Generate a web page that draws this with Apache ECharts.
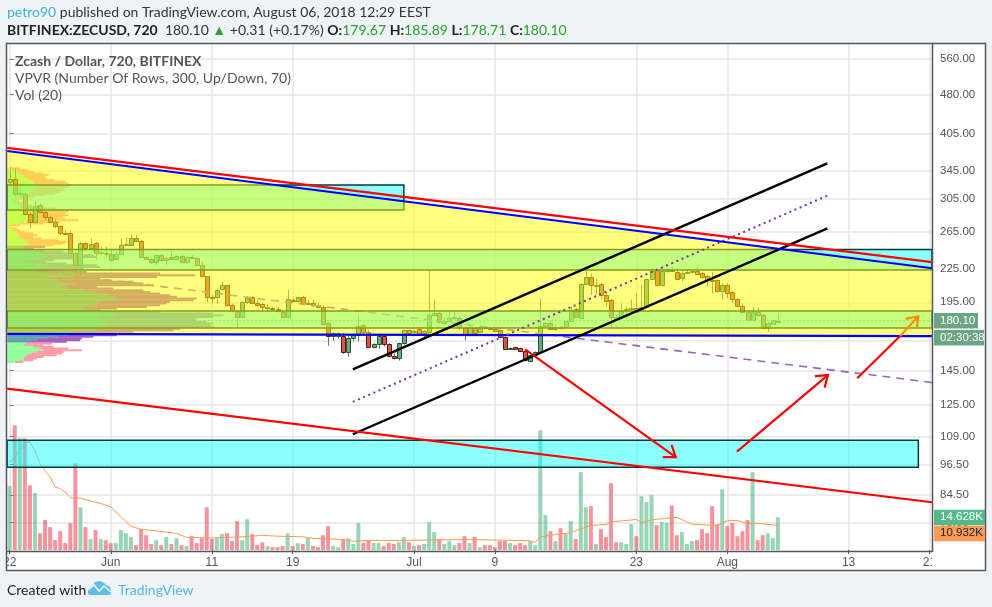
<!DOCTYPE html>
<html><head><meta charset="utf-8">
<style>html,body{margin:0;padding:0;background:#f0f3f6}#c{width:992px;height:607px}</style>
<script src="https://cdn.jsdelivr.net/npm/echarts@6/dist/echarts.min.js"></script>
</head><body><div id="c"></div>
<script>
// ---- data ----
const tickIndex=[0,20,40,56,80,96,124,142,166,182];
const tickText=['22','Jun','11','19','Jul','9','23','Aug','13','21'];
const priceTicks=[560,480,405,345,305,265,225,195,165,145,125,109,96.5,84.5,75];
const startDate=Date.UTC(2018,4,22);
const categories=[];for(let k=0;k<183;k++)categories.push(new Date(startDate+k*43200000).toISOString().slice(0,16));
// open, close, low, high
const candles=[
[328,332.4,322,351],[332.4,312.3,308.3,348.6],[312,313.7,308.3,326.6],[312.3,285.6,284.7,315],[285.6,275.8,268.7,297.3],
[275.8,296,274.6,301.7],[296.9,287.9,286.8,299.5],[287.9,281.9,278.6,290.9],[281.9,276.6,274.6,284.7],[275.8,271.1,268.7,280.6],
[271.1,263,261,272.6],[263.8,262.3,261,266.8],[263,241.1,240.4,266],[241.1,228.8,219.4,242.8],[228.8,252.5,219.4,253.2],
[252.5,246.4,244.6,253.6],[247.1,251.4,246.4,257.3],[251.8,241.1,234.2,253.6],[241.1,242.1,239.3,248.2],[241.8,240.4,237.6,248.2],
[240.7,233.9,233.5,244.6],[234.9,240,234.2,242.8],[240,250.3,239.3,257.3],[250.3,251.1,249.6,258.4],[250.3,257.3,249.2,261.4],
[258,254,252.9,261],[254,236.9,235.9,255.4],[236.9,235.6,234.2,239],[235.6,232.5,230.2,237.6],[231.8,239,229.2,240.7],
[239,233.9,232.5,240.4],[233.9,235.9,229.2,237.6],[236.9,234.9,234.2,243.2],[234.9,238,234.2,239],[238,231.8,230.9,240.4],
[231.8,236.9,230.9,237.6],[236.9,236.3,235.6,239.3],[236.3,229.6,229.2,236.9],[229.6,218.1,217.2,232.5],[218.1,199.2,194.9,218.5],
[199.5,199.2,194.1,201.2],[199.2,205.3,193.5,207.1],[206.2,209.8,205.6,212.9],[209.8,193,192.7,210.4],[193,188.2,187.2,194.1],
[187.9,182.6,174.1,188.5],[182.6,194.9,181.9,195.5],[194.9,198.3,193.5,200.6],[199.2,194.7,193.5,200.6],[194.7,193,191.3,196.9],
[193.2,190.7,188,194.7],[189.9,190.7,186.9,193.5],[190.5,189.6,188,191.3],[189.6,187.5,186.4,191.3],[186.9,182.6,182.2,188],
[182.6,197.5,182.4,205.6],[197.2,196.3,195.5,198.3],[196.3,199.2,194.7,199.8],[199.2,193.2,192.4,200.3],[193.2,194.7,192.7,196.9],
[194.7,192.7,191.3,197.5],[192.7,190.7,189.9,194.7],[190.7,177.7,176.7,192.7],[178.5,168.5,161.5,179.2],[168.5,170.4,165.1,171.7],
[168.5,170.4,166.8,171.7],[168.5,157.4,155.8,171],[157.4,166.8,154,168.5],[166.8,169.2,164.4,170.4],[169.2,176.2,164.4,183.2],
[176.4,171.7,168.5,178],[171.7,160.9,160.4,172.9],[160.9,162.5,159.7,163.2],[162.5,168.5,159.2,170.4],[168.5,162.5,160.9,169.2],
[162.5,154.4,153.6,163.2],[154.4,152.9,152.2,156.3],[152.9,163.2,151.4,163.7],[163.2,172.6,162.2,173.4],[172.6,171,170.4,173.4],
[171.2,172,170.4,172.9],[173.4,170.2,169.9,174.1],[171,172,167.5,172.9],[171.7,184.2,171,223.6],[184.8,185.8,184.2,197.5],
[185.8,179.2,178,186.9],[178.5,180,176.7,181.9],[180,181.9,179.2,187.2],[181.9,182.9,180.5,187.2],[181.9,174.9,172.9,183.2],
[174.1,169.7,165.1,174.9],[169.7,174.9,168.5,176.7],[174.4,170.4,169.9,175.4],[171.7,174.9,171,176.7],[174.9,174.1,173.6,175.9],
[174.4,173.4,172.9,175.4],[173.6,172.4,171.7,174.6],[172.9,167.5,166.8,173.4],[167.5,159,158.5,168],[159,159.7,158.5,160.4],
[160.4,159.5,159,160.9],[159.7,158,157.6,160.2],[158,151.8,150.7,159],[151.1,154.9,150.5,155.3],[154.9,157.2,154.4,157.6],
[157.2,176.2,156.7,198.3],[176.2,178.5,174.9,179.2],[178,173.4,172.9,180],[173.4,175.4,172.4,176.7],[175.4,174.4,173.4,175.9],
[174.9,179.7,174.1,180.5],[180,188.5,179.2,191.3],[189,182.6,181.9,189.9],[182.4,210.7,181.9,211.6],[210.7,217.8,210.1,227.5],
[217.2,209.8,201.2,221],[209.8,210.4,201.2,216.3],[210.7,201.2,197.5,212.3],[200.9,196.3,191.3,204.1],[197.2,183.2,174.6,198.3],
[183.2,181.4,180.5,184.5],[183.2,188,181.1,194.1],[188.8,189.6,181.9,191.3],[189.6,190.2,185.8,197.5],[190.5,187.2,186.9,202.7],
[188,190.7,187.5,210.1],[190.7,215.4,189.9,216.3],[215.4,223.6,214.7,225.9],[224.2,210.4,209.8,225.9],[210.4,223.6,210.1,227.5],
[223.6,224.5,221.6,225.9],[224.2,223.2,222.3,227.5],[222.3,215.9,215.4,225.9],[216.3,221.6,213.2,224.2],[222,222.6,220.4,223.6],
[222.3,222.9,221,224.2],[223.6,220,219.4,227.5],[221,217.8,216.3,222.6],[218.1,214.7,208.6,219.4],[214.7,213.8,202.7,222.6],
[214.4,205,202.7,215.4],[205,210.1,196.9,211.6],[210.1,203.2,198.3,211.6],[204.1,198,194.1,205],[197.5,192.1,190.7,198.3],
[191.8,186.9,185.8,194.1],[186.9,180.8,180,188],[180.8,187.2,179.7,191.3],[187.2,184.2,183.2,190.7],[184.2,174.6,174.1,185.3],
[174.6,178,171.7,179.2],[177.7,180.3,176.7,181.1],[179.67,180.1,178.71,185.89]];
const volumes=[28.4,55.4,49.6,49.6,28.8,25.3,7.5,13.3,10.2,4.4,8.4,3.1,12,38.5,19,10.2,4.9,8.9,4.9,4.4,3.1,3.1,8.9,7.5,5.8,2.2,9.3,6.6,2.7,4.4,2.2,5.8,2.7,5.3,2.2,1.8,6.2,3.1,5.3,19,4.9,5.3,7.1,7.5,4,12.8,4.4,13.7,7.1,2.2,3.5,1.8,1.3,1.3,1.8,7.5,1.8,3.1,2.7,5.3,1.8,1.3,6.6,10.6,1.8,1.3,4.9,5.3,2.7,12,3.1,4.4,3.1,3.1,1.8,3.1,2.7,3.5,
5.8,3.5,1.8,2.2,2.7,12.4,8,4.9,2.7,4,2.2,3.1,6.2,3.1,5.8,1.3,2.2,2.2,1.3,4,4,3.1,2.2,3.1,2.2,4,2.2,53.2,15.5,8.4,4,9.7,7.5,12.8,4.9,34.6,19,19.5,2.7,9.3,5.8,29.7,3.5,3.5,2.7,11.5,6.2,23.9,21.3,24.4,11.1,12.4,12,19.9,6.6,8,2.7,4,4.4,9.3,7.5,19.5,11.5,27,10.6,12,6.2,8.4,13.3,34.6,4.4,6.6,7.5,5.3,14.628];
// volume moving average, sampled at the candles where it was read
const volMa=[[0,39.1],[1,41],[2,44.6],[3,47.5],[4,48],[5,44.3],[6,38.4],[7,35.1],[8,32.5],[9,28],[10,27.3],[11,25.8],[12,23.3],[14,23],[16,21.8],[18,20.7],[20,19.2],[22,14.8],[24,10.6],[26,9.2],[30,8.3],[33,7.4],[35,5.6],[40,5.4],[46,5.9],[50,6.5],[54,6.1],[58,5.9],[60,5.2],[66,4.7],[68,3.9],[72,4.3],[78,4.3],[90,4.7],[100,4.3],[103,4.1],[104,3.4],[105,5.9],[108,6.9],[111,7.7],[113,9.4],[115,10.9],[118,11.4],[119,12.5],[124,13.6],[125,12.3],[127,13.4],[129,13.9],[132,14.5],[135,11.5],[140,10.9],[142,13],[144,13.2],[146,11.8],[149,11.7],[152,10.932]];
// visible-range volume profile: row price, up volume, down volume (arbitrary units)
const vpPrice=[348.6,346,343.5,341.1,338.6,336.2,333.8,331.4,329,326.6,324.3,322,319.6,317.3,315,312.8,310.5,308.3,306.1,303.8,301.7,299.5,297.3,295.2,293.1,290.9,288.9,286.8,284.7,282.7,280.6,278.6,276.6,274.6,272.6,270.7,268.7,266.8,264.9,263,261,259.2,257.3,255.4,253.6,251.8,249.9,248.2,246.4,244.6,242.8,241.1,239.3,237.6,235.9,234.2,232.5,230.9,229.2,227.5,225.9,224.2,222.6,221,219.4,217.8,216.3,214.7,213.2,211.6,210.1,208.6,207.1,205.6,204.1,202.7,201.2,199.8,198.3,196.9,195.5,194.1,192.7,191.3,189.9,188.5,187.2,185.8,184.5,183.2,181.9,180.5,179.2,178,176.7,175.4,174.1,172.9,171.7,170.4,169.2,168,166.8,165.6,164.4,163.2,162,160.9,159.7,158.5,157.4,156.3,155.1,154,152.9,151.8,150.7];
const vpUp=[8,18,28,38,48,48,58,68,78,78,88,88,78,78,68,63,48,38,23,13,18,23,28,38,58,68,73,68,78,68,63,78,58,38,8,3,8,13,23,28,33,33,38,48,58,63,58,48,38,48,78,98,108,118,98,68,58,88,118,128,108,78,98,208,258,198,118,148,158,198,178,158,178,228,258,278,298,318,328,338,278,268,258,268,228,208,278,318,328,318,278,278,258,308,298,278,278,258,198,178,178,148,118,88,68,58,48,78,98,108,88,73,58,53,48,48,23];
const vpDown=[30,45,50,70,75,65,60,75,95,105,105,95,90,95,90,80,60,40,40,15,20,30,45,70,90,100,110,105,105,100,110,135,100,70,30,5,20,25,30,50,55,45,65,105,120,105,80,65,40,65,90,100,150,150,100,70,60,90,150,150,120,70,140,250,305,250,160,160,220,210,260,110,140,180,170,180,190,190,240,220,210,210,200,150,100,70,180,300,320,300,285,290,340,310,310,340,240,240,180,150,150,110,105,130,110,75,60,60,85,115,80,90,90,55,40,30,25];
const vaLow=163.5, vaHigh=249;
// drawings: candle-index / price pairs
const bands=[[-0.5,324.3,78,290.9],[-0.5,245.1,182.5,224.2],[-0.5,187.8,182.5,174.4],[-0.5,107.2,179.8,95.3]];
const wedge=[[-0.5,375.8,182.5,226,168.3,170]];
const underLines=[[-0.5,226.9,182.5,137.7],[-0.5,180.1,182.5,180.1]];
const underKinds=['dashed','last'];
const overLines=[[-0.5,170,182.5,168.3],[67.9,145.8,161.8,356.3],[67.9,110,161.8,268.7],[67.9,126.6,161.8,309.6],[-0.5,380.9,182.5,232],[-0.5,375.8,182.5,226],[-0.5,134.1,182.5,81.9],[167.7,140.2,176.2,168.5]];
const overKinds=['blue','black','black','dotted','red','blue','red','red'];
const arrows=[[102,159,131.8,99.6],[143.9,102,161.9,142.2],[176.2,168.5,179.8,183.5]];
const arrowKinds=['red','red','orange'];
const lastPrice=180.10, lastVol=14.628;

// ---- styles ----
const lineStyles={
 red:{stroke:'#ff0000',lineWidth:2.2},
 blue:{stroke:'#0000ff',lineWidth:2.2},
 black:{stroke:'#000',lineWidth:2.4},
 orange:{stroke:'#ff8c00',lineWidth:2.2},
 dotted:{stroke:'#7b2fa8',lineWidth:2,lineDash:[2,3.6]},
 dashed:{stroke:'#9a62c4',lineWidth:1.6,lineDash:[8,6]},
 last:{stroke:'#53b987',lineWidth:1,lineDash:[2,2]}
};
const PAGE='#f0f3f6', AXIS='#53565e', LABEL='#555';
const AFONT='"Liberation Sans",Arial,sans-serif', HFONT='Lato,"Open Sans",sans-serif';
const isTick=(i)=>tickIndex.includes(i);

function candleItem(params,api){
 const i=api.value(0),o=api.value(1),c=api.value(2),l=api.value(3),h=api.value(4);
 const up=c>=o, px=api.coord([i,o]), pc=api.coord([i,c]), pl=api.coord([i,l]), ph=api.coord([i,h]);
 const x=Math.round(px[0]);
 const top=Math.round(Math.min(px[1],pc[1])), bot=Math.round(Math.max(px[1],pc[1]));
 return {type:'group',children:[
  {type:'line',shape:{x1:x+.5,y1:ph[1],x2:x+.5,y2:pl[1]},style:{stroke:'#737375',lineWidth:1}},
  {type:'rect',shape:{x:x-1.5,y:top+.5,width:4,height:Math.max(bot-top,1)},
   style:{fill:up?'#6ba583':'#d75442',stroke:up?'#225437':'#5b1a13',lineWidth:1}}
 ]};
}
function vpItem(params,api){
 const p=api.value(0),u=api.value(1),d=api.value(2);
 const yt=api.coord([0,p*1.00362])[1], yb=api.coord([0,p/1.00362])[1];
 const x0=api.coord([0,p])[0], x1=api.coord([u,p])[0], x2=api.coord([u+d,p])[0];
 const inVa=p>=vaLow&&p<=vaHigh;
 return {type:'group',children:[
  {type:'rect',shape:{x:x0,y:yt,width:x1-x0,height:yb-yt+.4},style:{fill:inVa?'#5fa0ab':'#8fff9c'}},
  {type:'rect',shape:{x:x1,y:yt,width:x2-x1,height:yb-yt+.4},style:{fill:inVa?'#a95fbe':'#ff9aa6'}}
 ]};
}
function bandItem(params,api){
 const a=api.coord([api.value(0),api.value(1)]), b=api.coord([api.value(2),api.value(3)]);
 return {type:'rect',shape:{x:a[0],y:a[1],width:b[0]-a[0],height:b[1]-a[1]},
  style:{fill:'rgba(0,255,255,0.45)',stroke:'#043a3c',lineWidth:1.5}};
}
function wedgeItem(params,api){
 const i1=api.value(0),i2=api.value(2);
 return {type:'polygon',shape:{points:[api.coord([i1,api.value(1)]),api.coord([i2,api.value(3)]),api.coord([i2,api.value(4)]),api.coord([i1,api.value(5)])]},
  style:{fill:'rgba(255,255,0,0.5)'}};
}
function segItem(kinds){return function(params,api){
 const a=api.coord([api.value(0),api.value(1)]), b=api.coord([api.value(2),api.value(3)]);
 return {type:'line',shape:{x1:a[0],y1:a[1],x2:b[0],y2:b[1]},style:Object.assign({},lineStyles[kinds[params.dataIndex]])};
};}
function arrowItem(params,api){
 const a=api.coord([api.value(0),api.value(1)]), b=api.coord([api.value(2),api.value(3)]);
 const st=Object.assign({fill:'none',lineJoin:'miter'},lineStyles[arrowKinds[params.dataIndex]]);
 const ang=Math.atan2(b[1]-a[1],b[0]-a[0]), len=13, spread=0.62;
 const h1=[b[0]-len*Math.cos(ang-spread),b[1]-len*Math.sin(ang-spread)];
 const h2=[b[0]-len*Math.cos(ang+spread),b[1]-len*Math.sin(ang+spread)];
 return {type:'group',children:[
  {type:'line',shape:{x1:a[0],y1:a[1],x2:b[0],y2:b[1]},style:st},
  {type:'polyline',shape:{points:[h1,b,h2]},style:st}
 ]};
}
const upColor='rgba(83,185,135,0.6)', downColor='rgba(235,77,92,0.6)';
const customBase={type:'custom',xAxisIndex:1,yAxisIndex:0,clip:true,silent:true};

const chart=echarts.init(document.getElementById('c'),null,{renderer:'canvas',width:992,height:607});
const txt=(x,y,text,extra)=>({type:'text',x,y,z:200,silent:true,style:Object.assign({text,font:'14px '+HFONT,fill:'#333',textVerticalAlign:'middle'},extra||{})});
const G='#27a32f';
chart.setOption({
 animation:false,
 backgroundColor:PAGE,
 grid:{left:7,right:60,top:44,bottom:56,show:false},
 xAxis:[
  {type:'category',data:categories,boundaryGap:true,
   axisLine:{show:false},
   axisTick:{show:true,length:4,alignWithLabel:true,interval:(i)=>isTick(i),lineStyle:{color:AXIS}},
   splitLine:{show:true,alignWithLabel:true,interval:(i)=>isTick(i),lineStyle:{color:'#e6e6e6',width:1.5}},
   axisLabel:{interval:(i)=>isTick(i),margin:6,fontSize:12,fontFamily:AFONT,color:LABEL,
     formatter:(v,i)=>{const k=tickIndex.indexOf(i);return k>=0?tickText[k]:'';}}},
  {type:'value',show:false,min:-0.5,max:182.5},
  {type:'value',show:false,min:-1,max:2774}
 ],
 yAxis:[
  {type:'log',logBase:10,min:66.3,max:597.7,position:'right',axisLine:{show:false},
   axisTick:{show:true,length:4,customValues:priceTicks,lineStyle:{color:'#777'}},
   splitLine:{show:true,lineStyle:{color:'#e6e6e6',width:1.5}},minorTick:{show:false},minorSplitLine:{show:false},
   axisLabel:{customValues:priceTicks,margin:8,fontSize:11.5,fontFamily:AFONT,color:LABEL,formatter:(v)=>Number(v).toFixed(2)}},
  {type:'value',show:false,min:-0.4,max:224.6}
 ],
 series:[
  Object.assign({},customBase,{name:'vpvr',xAxisIndex:2,z:2,renderItem:vpItem,data:vpPrice.map((p,k)=>[p,vpUp[k],vpDown[k]]),encode:{y:0,x:1}}),
  {type:'bar',name:'vol',xAxisIndex:0,yAxisIndex:1,z:3,barWidth:4,silent:true,
   data:volumes.map((v,k)=>({value:v,itemStyle:{color:candles[k][1]>=candles[k][0]?upColor:downColor}}))},
  {type:'line',name:'volMA',xAxisIndex:0,yAxisIndex:1,z:3,symbol:'none',silent:true,smooth:false,
   lineStyle:{color:'#ff9850',width:1},data:volMa},
  Object.assign({},customBase,{name:'candles',z:4,renderItem:candleItem,encode:{x:0,y:[1,2,3,4]},data:candles.map((r,k)=>[k,r[0],r[1],r[2],r[3]])}),
  Object.assign({},customBase,{name:'under',z:4,renderItem:segItem(underKinds),data:underLines}),
  Object.assign({},customBase,{name:'bands',z:5,renderItem:bandItem,data:bands}),
  Object.assign({},customBase,{name:'wedge',z:6,renderItem:wedgeItem,data:wedge}),
  Object.assign({},customBase,{name:'over',z:7,renderItem:segItem(overKinds),data:overLines}),
  Object.assign({},customBase,{name:'arrows',z:8,renderItem:arrowItem,data:arrows})
 ],
 graphic:{elements:[
  {type:'rect',id:'sheet',z:-10,silent:true,shape:{x:7,y:44,width:978,height:526},style:{fill:'#fff'}},
  {type:'rect',id:'coverL',z:150,silent:true,shape:{x:0,y:552,width:6,height:22},style:{fill:PAGE}},
  {type:'rect',id:'coverR',z:150,silent:true,shape:{x:932,y:552,width:53,height:18},style:{fill:'#fff'}},
  {type:'rect',id:'frame',z:160,silent:true,shape:{x:6.5,y:43.5,width:979,height:527},style:{fill:'none',stroke:AXIS,lineWidth:1.5}},
  {type:'line',id:'sepV',z:160,silent:true,shape:{x1:932.5,y1:44,x2:932.5,y2:552},style:{stroke:AXIS,lineWidth:1.5}},
  {type:'line',id:'sepH',z:160,silent:true,shape:{x1:7,y1:551.5,x2:932.5,y2:551.5},style:{stroke:AXIS,lineWidth:1.5}},
  Object.assign(txt(7,12,'{a|petro90} published on TradingView.com, August 06, 2018 12:29 EEST',{rich:{a:{fill:'#3bb1e5',font:'14px '+HFONT}}}),{id:'h1'}),
  Object.assign(txt(7,30,'{b|BITFINEX:ZECUSD, 720}  180.10 {g|▲} +0.31 (+0.17%) {b|O:}{g|179.67} {b|H:}{g|185.89} {b|L:}{g|178.71} {b|C:}{g|180.10}',
    {rich:{b:{font:'bold 14px '+HFONT,fill:'#222'},g:{font:'14px '+HFONT,fill:G}}}),{id:'h2'}),
  Object.assign(txt(15,61,'Zcash / Dollar, 720, BITFINEX',{font:'bold 14px '+HFONT,fill:LABEL}),{id:'l1'}),
  Object.assign(txt(15,78,'VPVR (Number Of Rows, 300, Up/Down, 70)',{fill:LABEL}),{id:'l2'}),
  Object.assign(txt(15,95,'Vol (20)',{fill:LABEL}),{id:'l3'}),
  Object.assign(txt(7,590,'Created with',{fill:'#222'}),{id:'f1'}),
  Object.assign(txt(118,590,'TradingView',{fill:'#55b8e6'}),{id:'f2'}),
  {type:'polygon',id:'logo',z:200,silent:true,shape:{points:[[88,594],[88,589],[92,586],[95,582],[100,581],[104,583],[106,585],[110,587],[111,591],[111,594],[109,595],[90,595]]},style:{fill:'#5ebde9'}},
  {type:'polyline',id:'logoz',z:201,silent:true,shape:{points:[[88,590],[94,585],[99,591],[104,586],[111,592]]},style:{stroke:'#f0f3f6',lineWidth:1.6,fill:'none'}}
 ]}
});
function tag(id,y,w,text,bg,fg){
 return [{type:'rect',id:'t'+id,z:170,silent:true,shape:{x:934,y:y-7.5,width:w,height:15.5},style:{fill:bg}},
  {type:'text',id:'x'+id,z:171,silent:true,x:940,y:y,style:{text,font:'11.5px '+AFONT,fill:fg,textVerticalAlign:'middle'}}];
}
const yPrice=chart.convertToPixel({yAxisIndex:0},lastPrice);
const yVol=chart.convertToPixel({yAxisIndex:1},lastVol);
chart.setOption({graphic:{elements:[].concat(
 tag('p',yPrice,44,'180.10','#6ba583','#fff'),
 tag('c',yPrice+17,50,'02:30:38','#6ba583','#fff'),
 tag('v',yVol,51,'14.628K','#53b987','#fff'),
 tag('m',yVol+16,51,'10.932K','#ff9a56','#222')
)}});
</script></body></html>
